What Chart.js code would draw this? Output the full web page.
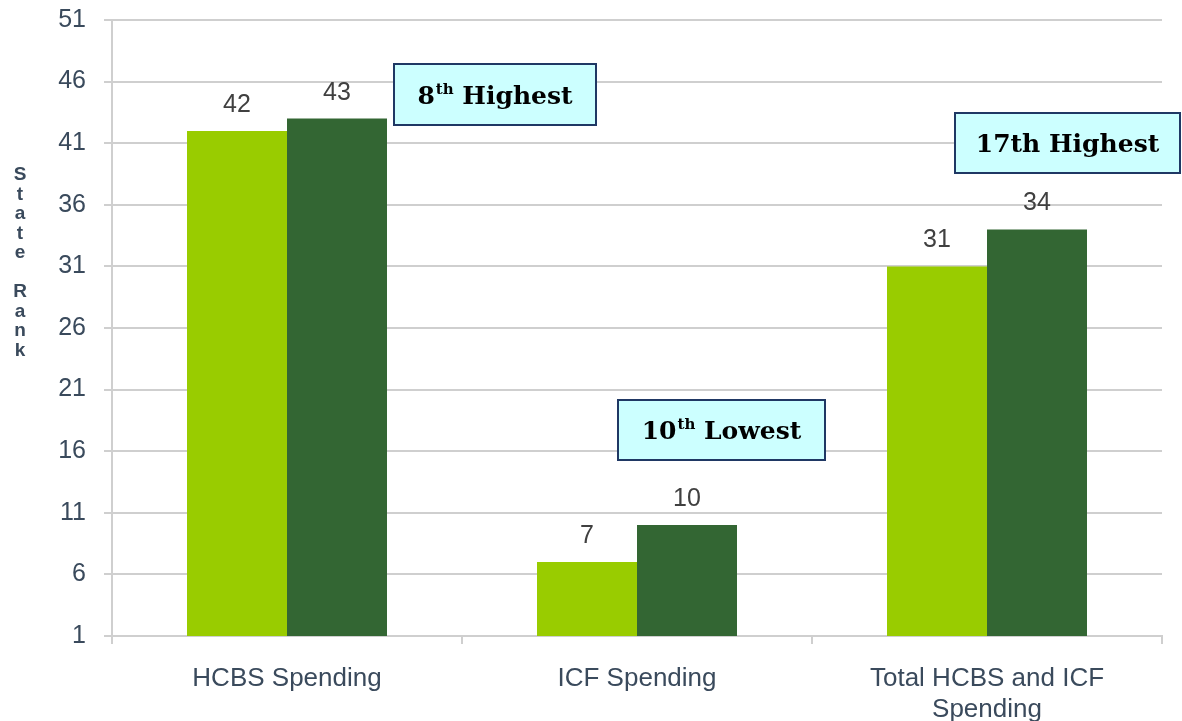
<!DOCTYPE html>
<html>
<head>
<meta charset="utf-8">
<script src="https://cdn.jsdelivr.net/npm/chart.js@4/dist/chart.umd.min.js"></script>
<style>
  html, body { margin: 0; padding: 0; background: #ffffff; }
  #wrap { width: 1182px; height: 721px; position: relative; }
</style>
</head>
<body>
<div id="wrap"><canvas id="c" width="1182" height="721"></canvas></div>
<script>
// ---- Data ----
const categories = ["HCBS Spending", "ICF Spending", ["Total HCBS and ICF", "Spending"]];
const seriesA = [42, 7, 31];   // light green
const seriesB = [43, 10, 34];  // dark green
const yTicks = [1, 6, 11, 16, 21, 26, 31, 36, 41, 46, 51];
const yTitleLetters = ["S", "t", "a", "t", "e", "", "R", "a", "n", "k"];
const callouts = [
  { main: "8", sup: "th", rest: " Highest" },
  { main: "10", sup: "th", rest: " Lowest" },
  { main: "17th Highest", sup: "", rest: "" }
];

// ---- Styling / layout ----
const LIGHT = "#99CC00";
const DARK = "#336633";
const AXIS_TEXT = "#3A4A5C";
const GRID = "#CFCFCF";
const SANS = "'Liberation Sans', Arial, sans-serif";
const calloutBoxes = [
  { x: 394, y: 64, w: 202, h: 61 },
  { x: 618, y: 400, w: 207, h: 60 },
  { x: 955, y: 113, w: 225, h: 60 }
];

const valueLabels = {
  id: "valueLabels",
  afterDatasetsDraw(chart) {
    const ctx = chart.ctx;
    ctx.save();
    ctx.font = "25px " + SANS;
    ctx.fillStyle = "#404040";
    ctx.textAlign = "center";
    ctx.textBaseline = "alphabetic";
    chart.data.datasets.forEach((ds, i) => {
      chart.getDatasetMeta(i).data.forEach((bar, j) => {
        ctx.fillText(String(ds.data[j]), bar.x, bar.y - 19);
      });
    });
    ctx.restore();
  }
};

const yTitle = {
  id: "yTitle",
  afterDraw(chart) {
    const ctx = chart.ctx;
    ctx.save();
    ctx.font = "bold 19px " + SANS;
    ctx.fillStyle = AXIS_TEXT;
    ctx.textAlign = "center";
    ctx.textBaseline = "middle";
    yTitleLetters.forEach((ch, i) => {
      ctx.fillText(ch, 20, 175 + i * 19.5);
    });
    ctx.restore();
  }
};

const calloutPlugin = {
  id: "callouts",
  afterDraw(chart) {
    const ctx = chart.ctx;
    ctx.save();
    callouts.forEach((c, i) => {
      const b = calloutBoxes[i];
      ctx.fillStyle = "#CCFFFF";
      ctx.fillRect(b.x, b.y, b.w, b.h);
      ctx.strokeStyle = "#1F3864";
      ctx.lineWidth = 2;
      ctx.strokeRect(b.x, b.y, b.w, b.h);
      const mainFont = "bold 25px 'DejaVu Serif', serif";
      const supFont = "bold 15px 'DejaVu Serif', serif";
      ctx.font = mainFont;
      const w1 = ctx.measureText(c.main).width;
      const w3 = ctx.measureText(c.rest).width;
      ctx.font = supFont;
      const w2 = c.sup ? ctx.measureText(c.sup).width + 1 : 0;
      const total = w1 + w2 + w3;
      let x = b.x + (b.w - total) / 2;
      const base = b.y + b.h / 2 + 9;
      ctx.fillStyle = "#000000";
      ctx.textAlign = "left";
      ctx.textBaseline = "alphabetic";
      ctx.font = mainFont;
      ctx.fillText(c.main, x, base);
      x += w1;
      if (c.sup) {
        ctx.font = supFont;
        ctx.fillText(c.sup, x + 1, base - 10);
        x += w2;
      }
      ctx.font = mainFont;
      ctx.fillText(c.rest, x, base);
    });
    ctx.restore();
  }
};

new Chart(document.getElementById("c"), {
  type: "bar",
  data: {
    labels: categories,
    datasets: [
      { label: "A", data: seriesA, backgroundColor: LIGHT, borderWidth: 0, categoryPercentage: 200 / 350, barPercentage: 1.0 },
      { label: "B", data: seriesB, backgroundColor: DARK, borderWidth: 0, categoryPercentage: 200 / 350, barPercentage: 1.0 }
    ]
  },
  options: {
    responsive: false,
    animation: false,
    layout: { padding: { top: 20, right: 20, left: 0, bottom: 0 } },
    plugins: { legend: { display: false }, tooltip: { enabled: false } },
    scales: {
      x: {
        offset: true,
        grid: { offset: true, drawOnChartArea: false, drawTicks: true, tickLength: 8, color: GRID, lineWidth: 2 },
        border: { color: GRID, width: 2 },
        ticks: { color: AXIS_TEXT, padding: 19, font: { family: SANS, size: 26, lineHeight: 1.2 }, maxRotation: 0, autoSkip: false },
        afterFit(s) { s.height = 85; s.paddingLeft = 0; s.paddingRight = 0; }
      },
      y: {
        min: 1, max: 51,
        afterBuildTicks(s) { s.ticks = yTicks.map(v => ({ value: v })); },
        grid: { color: GRID, lineWidth: 2, tickLength: 8, drawTicks: true },
        border: { color: GRID, width: 2 },
        ticks: { color: AXIS_TEXT, padding: 18, font: { family: SANS, size: 25 } },
        afterFit(s) { s.width = 112; s.paddingTop = 0; s.paddingBottom = 0; }
      }
    }
  },
  plugins: [valueLabels, yTitle, calloutPlugin]
});
</script>
</body>
</html>
